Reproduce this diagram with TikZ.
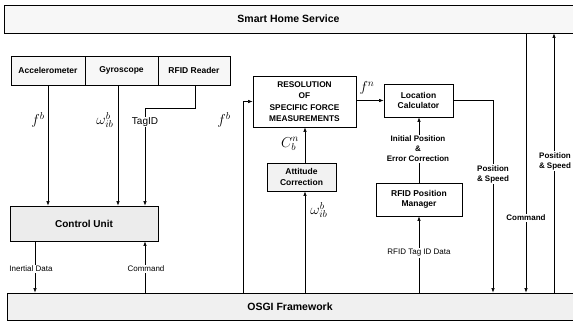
\documentclass[tikz,border=0pt]{standalone}
\usepackage{fontspec}
\setmainfont{Liberation Sans}
\usetikzlibrary{arrows.meta}
\begin{document}
\begin{tikzpicture}[x=1pt,y=-1pt,
  box/.style={draw,line width=0.9pt,align=center,inner sep=0pt,font=\fontsize{8.5}{10.5}\selectfont\bfseries},
  lbl/.style={fill=white,inner sep=1pt,align=center,font=\fontsize{8}{10}\selectfont\bfseries},
  mlbl/.style={inner sep=0pt,font=\fontsize{14}{14}\selectfont},
  arr/.style={line width=0.6pt,-{Latex[length=4.5pt,width=3.5pt]}},
  ln/.style={line width=0.6pt}]
\useasboundingbox (0,0) rectangle (573,324);
% boxes
\node[box,fill=gray!6,minimum width=569,minimum height=28,font=\fontsize{10.5}{12}\selectfont\bfseries] (smart) at (288.5,19) {Smart Home Service};
\node[box,fill=gray!6,minimum width=74,minimum height=29,font=\fontsize{8.5}{10}\selectfont\bfseries] (acc) at (48,70.5) {Accelerometer};
\node[box,fill=gray!6,minimum width=73,minimum height=29] (gyro) at (121.5,70.5) {Gyroscope};
\node[box,fill=gray!6,minimum width=72,minimum height=29] (rfidr) at (194,70.5) {RFID Reader};
\node[box,fill=gray!15,minimum width=148,minimum height=35,font=\fontsize{10}{11}\selectfont\bfseries] (ctrl) at (84,223.5) {Control Unit};
\node[box,fill=gray!12,minimum width=566,minimum height=27,font=\fontsize{10.5}{12}\selectfont\bfseries] (osgi) at (290,306.5) {OSGI Framework};
\node[box,fill=white,minimum width=103,minimum height=51,font=\fontsize{8.3}{11.5}\selectfont\bfseries] (res) at (304.5,101.5) {RESOLUTION\\OF\\SPECIFIC FORCE\\MEASUREMENTS};
\node[box,fill=white,minimum width=69,minimum height=33] (loc) at (418.5,100.5) {Location\\Calculator};
\node[box,fill=gray!10,minimum width=69,minimum height=28] (att) at (301.5,177) {Attitude\\Correction};
\node[box,fill=white,minimum width=86,minimum height=33] (rfidm) at (419,199.5) {RFID Position\\Manager};
% x positions
\coordinate (xg) at (118,0);
\coordinate (xr) at (195,0);
\coordinate (xt) at (145,0);
\coordinate (xi) at (35,0);
\coordinate (xf) at (243,0);
\coordinate (xa) at (305,0);
\coordinate (xp) at (493,0);
\coordinate (xc) at (526,0);
\coordinate (xs) at (554,0);
\coordinate (bend) at (195,108);
\coordinate (bend2) at (145,108);
\coordinate (fb) at (243,101.5);
\coordinate (pb) at (493,100.5);
% sensor connectors
\draw[arr] (acc.south) -- (acc.south |- ctrl.north);
\draw[arr] (gyro.south -| xg) -- (ctrl.north -| xg);
\draw[arr] (rfidr.south -| xr) -- (bend) -- (bend2) -- (ctrl.north -| xt);
\node[lbl,font=\fontsize{10}{11}\selectfont] (tag) at (145,122) {TagID};
\node[mlbl] (lf1) at (38,120) {$f^b$};
\node[mlbl] (lw1) at (105,120) {$\omega^b_{ib}$};
% control unit <-> osgi
\draw[arr] (ctrl.south -| xi) -- (osgi.north -| xi);
\draw[arr] (osgi.north -| xt) -- (ctrl.south -| xt);
\node[lbl,font=\fontsize{8}{9}\selectfont] (inert) at (31,269) {Inertial Data};
\node[lbl,font=\fontsize{8}{9}\selectfont] (cmd1) at (146,269) {Command};
% navigation chain
\draw[arr] (osgi.north -| xf) -- (fb) -- (res.west);
\node[mlbl] (lf2) at (224,120) {$f^b$};
\draw[arr] (res.east |- loc.west) -- (loc.west);
\node[mlbl] (lf3) at (367,88) {$f^n$};
\draw[arr] (att.north -| xa) -- (res.south -| xa);
\node[mlbl] (lc) at (290,144) {$C^n_b$};
\draw[arr] (osgi.north -| xa) -- (att.south -| xa);
\node[mlbl] (lw2) at (319,210) {$\omega^b_{ib}$};
\draw[arr] (rfidm.north) -- (loc.south -| rfidm.north);
\node[lbl] (init) at (418,149) {Initial Position\\\&\\Error Correction};
\draw[arr] (osgi.north -| rfidm.south) -- (rfidm.south);
\node[lbl,font=\fontsize{8}{9}\selectfont] (tagd) at (419,253) {RFID Tag ID Data};
\draw[arr] (loc.east) -- (pb) -- (osgi.north -| xp);
\node[lbl] (ps1) at (493,174) {Position\\\& Speed};
\draw[arr] (smart.south -| xc) -- (osgi.north -| xc);
\node[lbl] (cmd2) at (526,218) {Command};
\draw[arr] (osgi.north -| xs) -- (smart.south -| xs);
\node[lbl] (ps2) at (555,161) {Position\\\& Speed};
\end{tikzpicture}
\end{document}
